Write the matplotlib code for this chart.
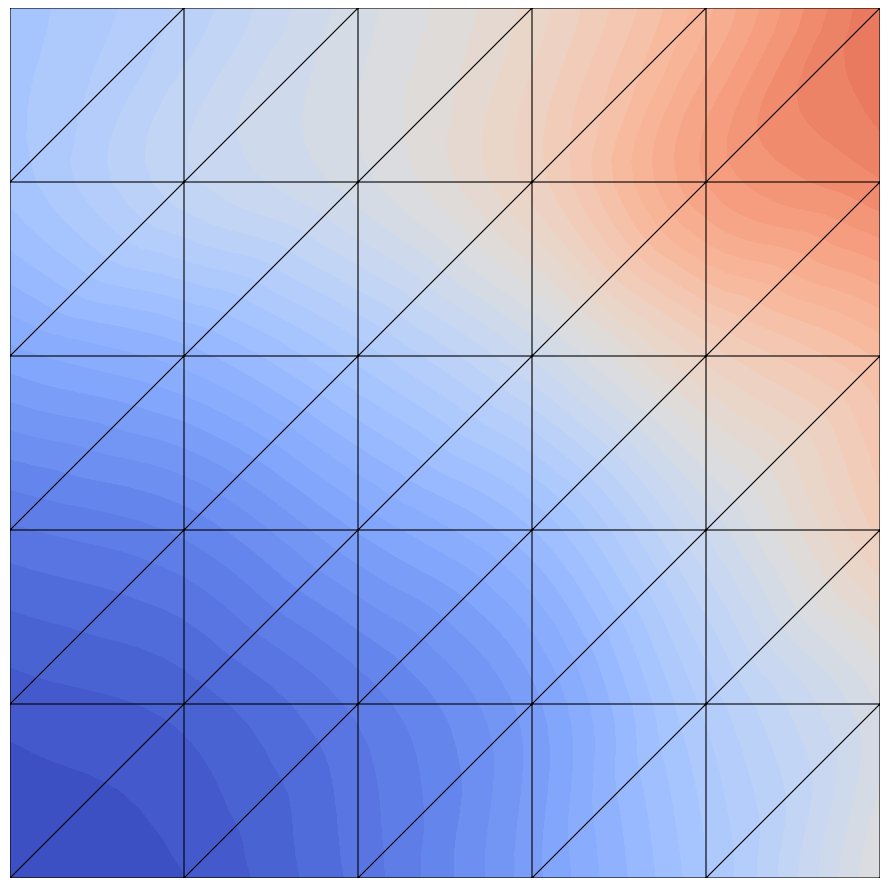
import numpy as np
import matplotlib
matplotlib.use('Agg')
import matplotlib.pyplot as plt
import matplotlib.tri as mtri

# node coordinates of the 5x5 mesh
xs = [0, 1, 2, 3, 4, 5]
ys = [0, 1, 2, 3, 4, 5]

row0 = [0.00, 0.02, 0.09, 0.20, 0.33, 0.50]
row1 = [0.03, 0.05, 0.11, 0.20, 0.36, 0.48]
row2 = [0.10, 0.13, 0.21, 0.29, 0.44, 0.59]
row3 = [0.22, 0.26, 0.34, 0.44, 0.57, 0.65]
row4 = [0.32, 0.41, 0.47, 0.57, 0.73, 0.79]
row5 = [0.32, 0.38, 0.47, 0.55, 0.68, 0.83]

vals = np.array([row0, row1, row2, row3, row4, row5])
X, Y = np.meshgrid(xs, ys)
x = X.ravel().astype(float)
y = Y.ravel().astype(float)
z = vals.ravel()

n = len(xs)
tris = []
for j in range(n - 1):
    for i in range(n - 1):
        a = j * n + i
        b = a + 1
        c = a + n + 1
        d = a + n
        tris.append([a, b, c])
        tris.append([a, c, d])

triang = mtri.Triangulation(x, y, tris)
refiner = mtri.UniformTriRefiner(triang)
interp = mtri.CubicTriInterpolator(triang, z, kind='geom')
tri_ref, z_ref = refiner.refine_field(z, triinterpolator=interp, subdiv=3)

fig = plt.figure(figsize=(8.9, 8.86), dpi=100)
ax = fig.add_axes([10 / 890, 8 / 886, 870 / 890, 870 / 886])
levels = np.linspace(0, 1, 49)
ax.tricontourf(tri_ref, z_ref, levels=levels, cmap='coolwarm', vmin=0, vmax=1, extend='both')
ax.triplot(triang, color='black', lw=0.8)
ax.set_xlim(0, 5)
ax.set_ylim(0, 5)
ax.axis('off')

fig.savefig('out.png', dpi=100)
